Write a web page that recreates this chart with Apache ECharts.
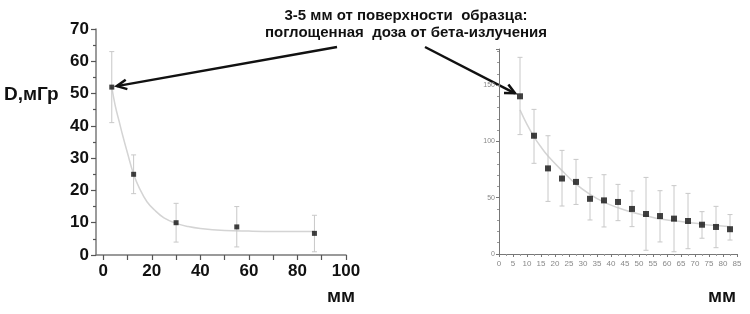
<!DOCTYPE html>
<html><head><meta charset="utf-8">
<style>html,body{margin:0;padding:0;background:#fff}#c{width:750px;height:314px}</style>
<script src="https://cdn.jsdelivr.net/npm/echarts@6/dist/echarts.min.js"></script>
</head><body><div id="c"></div>
<script>
// Left chart data
const leftX = [3.5, 12.5, 30, 55, 87];
const leftY = [52, 25, 10, 8.7, 6.7];
const leftLow = [41, 19, 4, 2.5, 1];
const leftHigh = [63, 31, 16, 15, 12.3];
const leftFitX = [3.5, 5, 6.5, 8, 10, 12.5, 15, 18, 21, 25, 30, 35, 40, 50, 60, 70, 87];
const leftFitY = [52, 46, 41.5, 37, 31.5, 25, 20.5, 16.5, 14, 11.5, 9.8, 8.8, 8.2, 7.6, 7.4, 7.3, 7.3];
const leftXLabels = [0, 20, 40, 60, 80, 100];
const leftXTicks = [0, 10, 20, 30, 40, 50, 60, 70, 80, 90, 100];

// Right chart data
const rightX = [7.5, 12.5, 17.5, 22.5, 27.5, 32.5, 37.5, 42.5, 47.5, 52.5, 57.5, 62.5, 67.5, 72.5, 77.5, 82.5];
const rightY = [140, 105, 76, 67, 64, 49, 47.6, 46.2, 40, 35.5, 33.7, 31.4, 29.3, 26, 24, 22];
const rightLow = [106, 80.5, 46.7, 42.6, 44, 30.2, 24, 29.6, 24.3, 3.3, 10.7, 2, 4.7, 14, 5.6, 12.4];
const rightHigh = [174.6, 128.4, 105, 92, 84, 67.8, 70.4, 61.8, 56, 68, 56.2, 60.7, 53.8, 37.6, 42.3, 35];
const rightFitX = [7.5, 10, 12.5, 15, 17.5, 22.5, 27.5, 32.5, 37.5, 42.5, 47.5, 52.5, 57.5, 62.5, 67.5, 72.5, 77.5, 82.5];
const rightFitY = [128, 115, 104, 95, 87, 74, 62, 53, 46, 41, 37, 34, 31, 29.5, 28, 26.5, 25.3, 24.3];

const titleLines = ['3-5 мм от поверхности  образца:', 'поглощенная  доза от бета-излучения'];
const yName = 'D,мГр';
const xName = 'мм';

const zip = (a, b) => a.map((v, i) => [v, b[i]]);
const errData = (x, lo, hi) => x.map((v, i) => [v, lo[i], hi[i]]);

function errRender(cap, color) {
  return function (params, api) {
    const x = api.value(0);
    const lo = api.coord([x, api.value(1)]);
    const hi = api.coord([x, api.value(2)]);
    const st = {stroke: color, lineWidth: 1};
    return {type: 'group', children: [
      {type: 'line', shape: {x1: lo[0], y1: lo[1], x2: hi[0], y2: hi[1]}, style: st},
      {type: 'line', shape: {x1: lo[0] - cap, y1: lo[1], x2: lo[0] + cap, y2: lo[1]}, style: st},
      {type: 'line', shape: {x1: hi[0] - cap, y1: hi[1], x2: hi[0] + cap, y2: hi[1]}, style: st}
    ]};
  };
}

const chart = echarts.init(document.getElementById('c'), null, {renderer: 'canvas'});
const axisGray = '#7a7a7a';
chart.setOption({
  animation: false,
  backgroundColor: '#fff',
  grid: [
    {left: 96, width: 250, top: 29, height: 226},
    {left: 499, width: 238, top: 49, height: 205}
  ],
  xAxis: [
    {gridIndex: 0, type: 'value', min: -3, max: 100,
      axisLine: {onZero: false, lineStyle: {color: axisGray, width: 1.5}},
      axisTick: {show: true, inside: false, length: 5, customValues: leftXTicks, lineStyle: {color: '#555', width: 1.2}},
      axisLabel: {customValues: leftXLabels, color: '#111', fontFamily: 'Liberation Sans', fontWeight: 'bold', fontSize: 17, margin: 8},
      splitLine: {show: false}},
    {gridIndex: 1, type: 'value', min: 0, max: 85, interval: 5,
      axisLine: {onZero: false, lineStyle: {color: '#777'}},
      axisTick: {show: true, length: 3, lineStyle: {color: '#777'}},
      minorTick: {show: true, splitNumber: 2, length: 2, lineStyle: {color: '#999'}},
      axisLabel: {color: '#888', fontFamily: 'Liberation Sans', fontSize: 8, margin: 6, showMaxLabel: true},
      splitLine: {show: false}}
  ],
  yAxis: [
    {gridIndex: 0, type: 'value', min: 0, max: 70, interval: 10,
      axisLine: {show: true, onZero: false, lineStyle: {color: axisGray, width: 1.5}},
      axisTick: {show: true, inside: false, length: 5, lineStyle: {color: '#555', width: 1.2}},
      minorTick: {show: true, splitNumber: 2, length: 3, lineStyle: {color: '#555', width: 1.2}},
      axisLabel: {color: '#111', fontFamily: 'Liberation Sans', fontWeight: 'bold', fontSize: 17, margin: 7},
      splitLine: {show: false}},
    {gridIndex: 1, type: 'value', min: 0, max: 182, interval: 50,
      axisLine: {show: true, onZero: false, lineStyle: {color: '#777'}},
      axisTick: {show: true, length: 3, lineStyle: {color: '#777'}},
      minorTick: {show: true, splitNumber: 5, length: 2, lineStyle: {color: '#999'}},
      axisLabel: {color: '#888', fontFamily: 'Liberation Sans', fontSize: 7, margin: 4, showMaxLabel: false},
      splitLine: {show: false}}
  ],
  series: [
    {type: 'line', xAxisIndex: 0, yAxisIndex: 0, data: zip(leftFitX, leftFitY), smooth: 0.4, symbol: 'none', lineStyle: {color: '#d4d4d4', width: 1.5}, z: 1},
    {type: 'custom', xAxisIndex: 0, yAxisIndex: 0, data: errData(leftX, leftLow, leftHigh), renderItem: errRender(2.5, '#c8c8c8'), z: 2},
    {type: 'scatter', xAxisIndex: 0, yAxisIndex: 0, data: zip(leftX, leftY), symbol: 'rect', symbolSize: 5, itemStyle: {color: '#111'}, z: 3},
    {type: 'line', xAxisIndex: 1, yAxisIndex: 1, data: zip(rightFitX, rightFitY), smooth: 0.4, symbol: 'none', lineStyle: {color: '#d4d4d4', width: 1.5}, z: 1},
    {type: 'custom', xAxisIndex: 1, yAxisIndex: 1, data: errData(rightX, rightLow, rightHigh), renderItem: errRender(2.5, '#c8c8c8'), z: 2},
    {type: 'scatter', xAxisIndex: 1, yAxisIndex: 1, data: zip(rightX, rightY), symbol: 'rect', symbolSize: 6, itemStyle: {color: '#111'}, z: 3}
  ]
});

// Annotation text and arrows
const pL = chart.convertToPixel({gridIndex: 0}, [leftX[0], leftY[0]]);
const pR = chart.convertToPixel({gridIndex: 1}, [rightX[0], rightY[0]]);
function arrow(x1, y1, x2, y2) {
  const ang = Math.atan2(y1 - y2, x1 - x2);
  const L = 11, a = 0.45;
  const h1 = [x2 + L * Math.cos(ang + a), y2 + L * Math.sin(ang + a)];
  const h2 = [x2 + L * Math.cos(ang - a), y2 + L * Math.sin(ang - a)];
  return [
    {type: 'line', shape: {x1, y1, x2, y2}, style: {stroke: '#111', lineWidth: 2.5}},
    {type: 'polyline', shape: {points: [h1, [x2, y2], h2]}, style: {stroke: '#111', lineWidth: 2.5, fill: null}}
  ];
}
const txtStyle = {fontFamily: 'Liberation Sans', fontWeight: 'bold', fontSize: 15, fill: '#111', textAlign: 'center', textVerticalAlign: 'middle'};
chart.setOption({
  graphic: [
    {type: 'text', left: 4, top: 85, style: {text: yName, fontFamily: 'Liberation Sans', fontWeight: 'bold', fontSize: 19, fill: '#111'}},
    {type: 'text', x: 341, y: 297, style: Object.assign({}, txtStyle, {text: xName, fontSize: 19})},
    {type: 'text', x: 722, y: 297, style: Object.assign({}, txtStyle, {text: xName, fontSize: 19})},
    {type: 'text', x: 406, y: 16, style: Object.assign({}, txtStyle, {text: titleLines[0]})},
    {type: 'text', x: 406, y: 33, style: Object.assign({}, txtStyle, {text: titleLines[1]})},
    ...arrow(337, 47, pL[0] + 5, pL[1] - 1),
    ...arrow(425, 47, pR[0] - 5, pR[1] - 3)
  ]
});
</script></body></html>
